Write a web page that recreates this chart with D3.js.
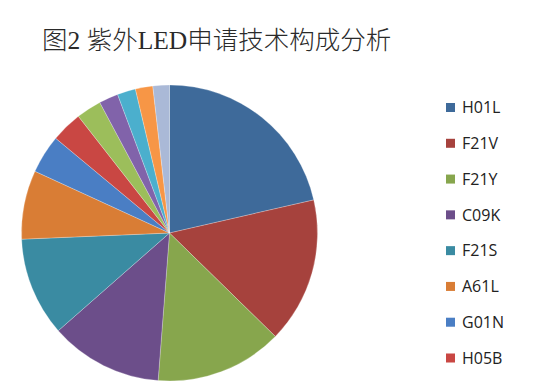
<!DOCTYPE html>
<html>
<head>
<meta charset="utf-8">
<script src="https://cdn.jsdelivr.net/npm/d3@7/dist/d3.min.js"></script>
<style>
html,body{margin:0;padding:0;background:#fff;}
svg{display:block;}
</style>
</head>
<body>
<svg id="chart" width="537" height="388"></svg>
<script>
const title = "图2 紫外LED申请技术构成分析";
const categories = ["H01L","F21V","F21Y","C09K","F21S","A61L","G01N","H05B","其他9","其他10","其他11","其他12","其他13"];
const values = [21.4, 15.9, 13.9, 12.3, 10.8, 7.5, 4.2, 3.4, 2.75, 2.1, 2.0, 1.9, 1.8];
const colors = ["#3e6a9a","#a6423d","#87a64d","#6c4e8a","#3a8ba2","#d97d35","#4a7ec4","#c94743","#9cbe5b","#8163aa","#4bafcd","#f79646","#aab9d7"];
const legendCount = 8;

const svg = d3.select("#chart");
const cx = 169.5, cy = 233, r = 148;

svg.append("text")
  .attr("x", 42).attr("y", 49)
  .attr("font-family", "'Liberation Serif','Noto Sans CJK SC',serif")
  .attr("font-size", 25.5)
  .attr("font-weight", 300)
  .attr("fill", "#2a2a2a")
  .text(title);

const pie = d3.pie().sort(null).value(d => d);
const arc = d3.arc().innerRadius(0).outerRadius(r);
const color = d3.scaleOrdinal().domain(categories).range(colors);

const g = svg.append("g").attr("transform", `translate(${cx},${cy})`);
g.selectAll("path")
  .data(pie(values))
  .join("path")
  .attr("d", arc)
  .attr("fill", (d, i) => color(categories[i]))
  .attr("stroke", "rgba(255,255,255,0.35)")
  .attr("stroke-width", 0.7);

const legendY = d3.scalePoint().domain(categories.slice(0, legendCount)).range([107.5, 358]);
const lg = svg.append("g");
const items = lg.selectAll("g").data(categories.slice(0, legendCount)).join("g")
  .attr("transform", d => `translate(446,${legendY(d)})`);
items.append("rect").attr("x", 0).attr("y", -4.5).attr("width", 9).attr("height", 9)
  .attr("fill", d => color(d));
items.append("text").attr("x", 16).attr("y", 0).attr("dy", "0.36em")
  .attr("font-family", "'Open Sans',sans-serif").attr("font-size", 16)
  .attr("fill", "#222").text(d => d);
</script>
</body>
</html>
